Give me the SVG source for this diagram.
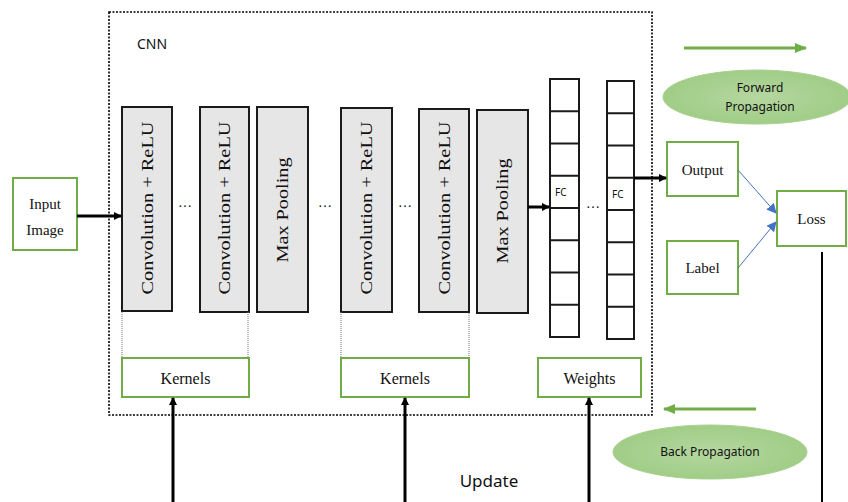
<svg xmlns="http://www.w3.org/2000/svg" width="848" height="502" viewBox="0 0 848 502">
<defs>
<marker id="ah" markerWidth="6" markerHeight="6" refX="5" refY="3" orient="auto" markerUnits="strokeWidth"><path d="M0,0 L6,3 L0,6 z" fill="#000"/></marker>
<marker id="ahs" markerWidth="8" markerHeight="8" refX="7" refY="4" orient="auto" markerUnits="userSpaceOnUse"><path d="M0,0 L8,4 L0,8 z" fill="#000"/></marker>
<marker id="ahg" markerWidth="12" markerHeight="10" refX="11" refY="5" orient="auto" markerUnits="userSpaceOnUse"><path d="M0,0 L12,5 L0,10 z" fill="#70AD47"/></marker>
<marker id="ahb" markerWidth="10" markerHeight="10" refX="9" refY="5" orient="auto" markerUnits="userSpaceOnUse"><path d="M0,0 L10,5 L0,10 z" fill="#4472C4"/></marker>
<radialGradient id="eg" cx="0.5" cy="0.5" r="0.6"><stop offset="0" stop-color="#B5D7A0"/><stop offset="1" stop-color="#9CCB82"/></radialGradient>
</defs>
<style>
.gbox{fill:#fff;stroke:#70AD47;stroke-width:2}
.layer{fill:#E6E6E6;stroke:#1a1a1a;stroke-width:2}
.cell{fill:#fff;stroke:#1a1a1a;stroke-width:2}
.serif{font-family:"Liberation Serif","DejaVu Serif",serif;fill:#111}
.sans{font-family:"Noto Sans","Open Sans",sans-serif;fill:#111}
.ell{fill:url(#eg);stroke:#A9D18E;stroke-width:1}
.thin{stroke:#777;stroke-width:1;stroke-dasharray:1,1;fill:none}
</style>
<rect width="848" height="502" fill="#fff"/>

<g id="cnn-frame">
<rect x="109" y="12" width="543" height="403" fill="none" stroke="#000" stroke-width="1.6" stroke-dasharray="2,1.5"/>
<text x="137" y="49" class="sans" font-size="14">CNN</text>
</g>

<g id="input-image">
<rect x="13" y="178" width="64" height="72" class="gbox"/>
<text x="45" y="209" class="serif" font-size="15" text-anchor="middle">Input</text>
<text x="45" y="235" class="serif" font-size="15" text-anchor="middle">Image</text>
</g>

<g id="conv1">
<rect x="122" y="107" width="50" height="204" class="layer"/>
<text transform="translate(153,208) rotate(-90)" class="serif" font-size="17" text-anchor="middle" textLength="173" lengthAdjust="spacingAndGlyphs">Convolution + ReLU</text>
</g>
<g id="conv2">
<rect x="200" y="107" width="49" height="205" class="layer"/>
<text transform="translate(230,208) rotate(-90)" class="serif" font-size="17" text-anchor="middle" textLength="173" lengthAdjust="spacingAndGlyphs">Convolution + ReLU</text>
</g>
<g id="maxpool1">
<rect x="257" y="107" width="51" height="205" class="layer"/>
<text transform="translate(288,210) rotate(-90)" class="serif" font-size="17" text-anchor="middle" textLength="105" lengthAdjust="spacingAndGlyphs">Max Pooling</text>
</g>
<g id="conv3">
<rect x="341" y="108" width="51" height="204" class="layer"/>
<text transform="translate(372,208) rotate(-90)" class="serif" font-size="17" text-anchor="middle" textLength="173" lengthAdjust="spacingAndGlyphs">Convolution + ReLU</text>
</g>
<g id="conv4">
<rect x="419" y="109" width="50" height="203" class="layer"/>
<text transform="translate(450,208) rotate(-90)" class="serif" font-size="17" text-anchor="middle" textLength="173" lengthAdjust="spacingAndGlyphs">Convolution + ReLU</text>
</g>
<g id="maxpool2">
<rect x="477" y="110" width="51" height="203" class="layer"/>
<text transform="translate(508,211) rotate(-90)" class="serif" font-size="17" text-anchor="middle" textLength="105" lengthAdjust="spacingAndGlyphs">Max Pooling</text>
</g>

<g id="dots" class="serif" font-size="14" text-anchor="middle">
<text x="185" y="207">…</text>
<text x="325" y="207">…</text>
<text x="405" y="207">…</text>
<text x="593" y="208">…</text>
</g>

<g id="fc1">
<rect x="550" y="79" width="29" height="258" class="cell"/>
<path d="M550,111.25H579M550,143.5H579M550,175.75H579M550,208H579M550,240.25H579M550,272.5H579M550,304.75H579" stroke="#1a1a1a" stroke-width="2"/>
<text x="555" y="196" class="sans" font-size="10">FC</text>
</g>
<g id="fc2">
<rect x="607" y="81" width="27" height="258" class="cell"/>
<path d="M607,113.25H634M607,145.5H634M607,177.75H634M607,210H634M607,242.25H634M607,274.5H634M607,306.75H634" stroke="#1a1a1a" stroke-width="2"/>
<text x="612" y="198" class="sans" font-size="10">FC</text>
</g>

<g id="kernels1">
<rect x="122" y="358" width="127" height="39" class="gbox"/>
<text x="185.5" y="384" class="serif" font-size="16" text-anchor="middle">Kernels</text>
</g>
<g id="kernels2">
<rect x="341" y="358" width="128" height="39" class="gbox"/>
<text x="405" y="384" class="serif" font-size="16" text-anchor="middle">Kernels</text>
</g>
<g id="weights">
<rect x="538" y="358" width="103" height="39" class="gbox"/>
<text x="589.5" y="384" class="serif" font-size="16" text-anchor="middle">Weights</text>
</g>

<g id="output">
<rect x="667" y="142" width="71" height="54" class="gbox"/>
<text x="702.5" y="175" class="serif" font-size="15" text-anchor="middle">Output</text>
</g>
<g id="label">
<rect x="667" y="241" width="71" height="53" class="gbox"/>
<text x="702.5" y="273" class="serif" font-size="15" text-anchor="middle">Label</text>
</g>
<g id="loss">
<rect x="777" y="191" width="69" height="55" class="gbox"/>
<text x="811.5" y="224" class="serif" font-size="15" text-anchor="middle">Loss</text>
</g>

<g id="forward-propagation">
<line x1="684" y1="48" x2="806" y2="48" stroke="#70AD47" stroke-width="3" marker-end="url(#ahg)"/>
<ellipse cx="757" cy="97" rx="94" ry="27" class="ell"/>
<text x="760" y="92" class="sans" font-size="12" text-anchor="middle">Forward</text>
<text x="760" y="111" class="sans" font-size="12" text-anchor="middle">Propagation</text>
</g>
<g id="back-propagation">
<line x1="756" y1="409" x2="664" y2="409" stroke="#70AD47" stroke-width="3" marker-end="url(#ahg)"/>
<ellipse cx="710" cy="452" rx="97" ry="27" class="ell"/>
<text x="710" y="456" class="sans" font-size="12" text-anchor="middle">Back Propagation</text>
</g>

<g id="update">
<text x="489" y="487" class="sans" font-size="17" text-anchor="middle">Update</text>
</g>

<g id="connectors">
<line x1="77" y1="216" x2="121" y2="216" stroke="#000" stroke-width="3" marker-end="url(#ahs)"/>
<line x1="528" y1="207" x2="549" y2="207" stroke="#000" stroke-width="3" marker-end="url(#ahs)"/>
<line x1="634" y1="178" x2="666" y2="178" stroke="#000" stroke-width="3" marker-end="url(#ahs)"/>
<line x1="738" y1="170" x2="776" y2="213" stroke="#4472C4" stroke-width="1" marker-end="url(#ahb)"/>
<line x1="738" y1="268" x2="776" y2="222" stroke="#4472C4" stroke-width="1" marker-end="url(#ahb)"/>
<line x1="822" y1="252" x2="822" y2="502" stroke="#000" stroke-width="2"/>
<line x1="173" y1="502" x2="173" y2="398" stroke="#000" stroke-width="3" marker-end="url(#ahs)"/>
<line x1="405" y1="502" x2="405" y2="398" stroke="#000" stroke-width="3" marker-end="url(#ahs)"/>
<line x1="589" y1="502" x2="589" y2="398" stroke="#000" stroke-width="3" marker-end="url(#ahs)"/>
<path class="thin" d="M122,312V358M248,312V358M341,312V358M469,313V358"/>
</g>
</svg>
